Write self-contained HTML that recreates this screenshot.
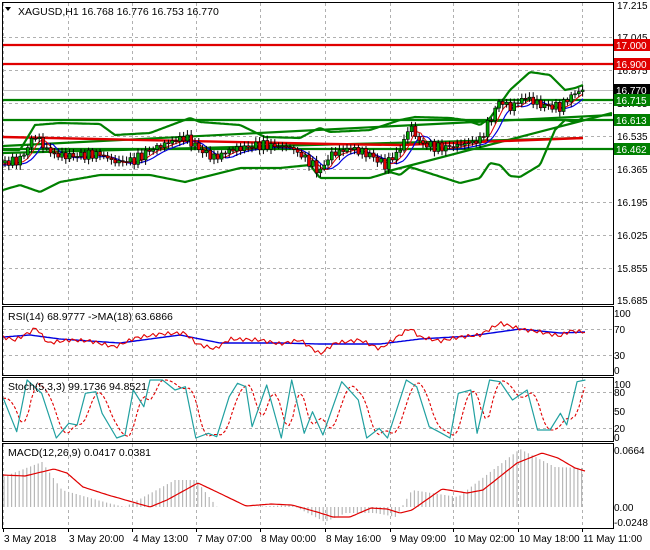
<!DOCTYPE html>
<html><head><meta charset="utf-8">
<style>
html,body{margin:0;padding:0;background:#fff;}
svg{display:block;font-family:"Liberation Sans",sans-serif;}
</style></head>
<body>
<svg id="c" width="650" height="550" xmlns="http://www.w3.org/2000/svg">
<rect width="650" height="550" fill="#fff"/>
<g id="grid" stroke="#b0b0b0" stroke-dasharray="3,3" stroke-width="1"></g>
<g id="series"></g>
<g id="frame" fill="none" stroke="#000" stroke-width="1">
<rect x="2.5" y="2.5" width="611" height="302"/>
<rect x="2.5" y="306.5" width="611" height="69"/>
<rect x="2.5" y="377.5" width="611" height="64"/>
<rect x="2.5" y="443.5" width="611" height="85"/>
</g>
<g id="txt" font-size="10" fill="#000"></g>
<text x="18" y="15" font-size="10.5">XAGUSD,H1  16.768 16.776 16.753 16.770</text>
<polygon points="5,7 11,7 8,11" fill="#000"/>
<text x="8" y="320" font-size="10.5">RSI(14) 68.9777  -&gt;MA(18) 63.6866</text>
<text x="8" y="390" font-size="10.5">Stoch(5,3,3) 99.1736 94.8521</text>
<text x="8" y="456" font-size="10.5">MACD(12,26,9) 0.0417 0.0381</text>
</svg>
<script>
(function(){
var NS="http://www.w3.org/2000/svg",svg=document.getElementById('c');
var G=document.getElementById('grid'),S=document.getElementById('series'),T=document.getElementById('txt');
function el(p,t,a,txt){var e=document.createElementNS(NS,t);for(var k in a)e.setAttribute(k,a[k]);if(txt!=null)e.textContent=txt;p.appendChild(e);return e;}
function interp(pts,x){if(x<=pts[0][0])return pts[0][1];for(var i=1;i<pts.length;i++){if(x<=pts[i][0]){var a=pts[i-1],b=pts[i];return a[1]+(b[1]-a[1])*(x-a[0])/(b[0]-a[0]);}}return pts[pts.length-1][1];}
function poly(pts,col,w,dash){var s=pts.map(function(p){return p[0].toFixed(1)+','+p[1].toFixed(1)}).join(' ');var a={points:s,fill:'none',stroke:col,'stroke-width':w,'stroke-linejoin':'round'};if(dash)a['stroke-dasharray']=dash;return el(S,'polyline',a);}
function sample(pts,x0,x1,step){var r=[];for(var x=x0;x<=x1;x+=step)r.push([x,interp(pts,x)]);return r;}
var xt=[3,68,132,196,260,325,390,453,518,582];
xt.forEach(function(x){[[3,304],[307,375],[378,441],[444,528]].forEach(function(r){el(G,'line',{x1:x+.5,y1:r[0],x2:x+.5,y2:r[1]});});});
var pl=[[17.215,5],[17.045,37],[16.875,70],[16.705,103],[16.535,136],[16.365,169],[16.195,202],[16.025,235],[15.855,268],[15.685,300]];
pl.forEach(function(p){if(p[1]>6&&p[1]<300)el(G,'line',{x1:3,y1:p[1]+.5,x2:613,y2:p[1]+.5});el(T,'text',{x:617,y:p[1]+4},p[0].toFixed(3));});
[[329],[355]].forEach(function(p){el(G,'line',{x1:3,y1:p[0]+.5,x2:613,y2:p[0]+.5});});
[[313,'100'],[329,'70'],[355,'30'],[370,'0']].forEach(function(p){el(T,'text',{x:614,y:p[0]+4},p[1]);});
[[392],[428]].forEach(function(p){el(G,'line',{x1:3,y1:p[0]+.5,x2:613,y2:p[0]+.5});});
[[384,'100'],[392,'80'],[411,'50'],[428,'20'],[437,'0']].forEach(function(p){el(T,'text',{x:614,y:p[0]+4},p[1]);});
[[450,'0.0664'],[507,'0.00'],[522,'-0.0248']].forEach(function(p){el(T,'text',{x:614,y:p[0]+4},p[1]);});
var tl=['3 May 2018','3 May 20:00','4 May 13:00','7 May 07:00','8 May 00:00','8 May 16:00','9 May 09:00','10 May 02:00','10 May 18:00','11 May 11:00'];
xt.forEach(function(x,i){el(T,'text',{x:x+1,y:542},tl[i]);el(S,'line',{x1:x+.5,y1:529,x2:x+.5,y2:532,stroke:'#000'});});
var hist=[[3,477],[42,462],[62,490],[108,503],[125,507],[175,480],[196,480],[217,507],[250,507],[292,505],[325,522],[346,513],[375,513],[396,517],[412,490],[458,497],[520,449],[555,467],[583,468]];
for(var x=4;x<=583;x+=3.8){var v=interp(hist,x);el(S,'line',{x1:x.toFixed(1),y1:507,x2:x.toFixed(1),y2:v.toFixed(1),stroke:'#b8b8b8','stroke-width':1.2});}
var macd=[[3,475],[25,476],[54,469],[67,473],[83,487],[108,495],[150,507],[167,500],[198,483],[217,492],[246,506],[271,504],[292,505],[317,512],[333,517],[350,517],[371,508],[387,509],[400,513],[412,510],[442,489],[467,493],[483,490],[517,463],[542,453],[558,458],[575,468],[585,471]];
poly(sample(macd,3,585,2),'#e00000',1.2);
var rsiK=[[3,337],[15,340],[30,332],[36,328],[48,343],[70,340],[90,341],[115,347],[135,338],[160,334],[185,333],[197,344],[215,349],[230,339],[260,340],[280,344],[300,340],[320,354],[335,343],[360,340],[380,349],[410,328],[420,337],[440,341],[460,337],[480,335],[495,326],[500,323],[520,329],[540,332],[560,336],[570,331],[585,332]];
var rsiM=[[3,337],[30,335],[60,339],[120,343],[180,335],[220,343],[280,343],[320,344],[380,344],[420,339],[470,336],[520,329],[560,333],[585,332]];
poly(sample(rsiM,3,585,2),'#0000e0',1.4);
var rr=[];for(var x=3;x<=585;x+=3){rr.push([x,interp(rsiK,x)+Math.sin(x*1.3)*2]);}poly(rr,'#e00000',1.1);
var sz=[[8,295],[40,395],[65,240],[100,280],[135,420],[165,370],[185,375],[205,280],[230,275],[245,340],[280,420],[300,405],[320,270],[345,320],[360,240],[390,240],[420,270],[445,260],[470,420],[500,400],[520,410],[550,290],[570,250],[590,260],[605,380],[640,255],[675,420],[700,240],[730,400],[750,335],[775,405],[820,245],[860,300],[880,420],[910,385],[930,415],[975,240],[1000,260],[1030,380],[1060,400],[1080,420],[1100,280],[1130,270],[1145,400],[1175,240],[1200,245],[1230,300],[1265,270],[1290,390],[1320,390],[1345,340],[1360,375],[1385,245],[1405,240]];
var st=sz.map(function(p){return [p[0]/2.4,Math.min(438,300+p[1]/3)]});
var sd=[];for(var x=3;x<=585;x+=2){var a=(interp(st,x-4)+interp(st,x-8)+interp(st,x-12))/3;sd.push([x,a]);}
poly(sd,'#e00000',1.1,'3,2');
poly(st,'#20a0a0',1.2);
[[45,'#e00000'],[64,'#e00000'],[100,'#008000'],[120,'#008000'],[149,'#008000']].forEach(function(h){el(S,'line',{x1:3,y1:h[0],x2:613,y2:h[0],stroke:h[1],'stroke-width':2.2});});
el(S,'line',{x1:3,y1:90.5,x2:613,y2:90.5,stroke:'#c0c0c0','stroke-width':1});
poly([[3,146],[612,115]],'#008000',2.2);
poly([[3,153],[583,138]],'#008000',2.2);
poly([[385,172],[612,113]],'#008000',2.2);
poly([[3,137],[330,144],[400,145],[583,138]],'#e00000',2.4);
var up=[[3,150],[20,150],[35,125],[60,123],[100,124],[115,135],[150,133],[190,118],[200,122],[240,125],[265,137],[300,138],[315,130],[320,128],[330,132],[370,130],[400,120],[415,117],[450,118],[465,120],[480,125],[490,118],[510,90],[530,72],[550,75],[565,90],[575,88],[583,85]];
var lo=[[3,190],[20,185],[40,192],[60,182],[100,175],[150,175],[185,182],[200,178],[240,168],[280,168],[310,165],[320,178],[370,178],[390,172],[400,175],[410,167],[460,183],[480,178],[490,163],[500,165],[510,176],[520,177],[540,165],[555,130],[565,120],[575,122],[583,118]];
poly(sample(up,3,583,2),'#008000',2.2);
poly(sample(lo,3,583,2),'#008000',2.2);
var pk=[[3,163],[20,160],[35,135],[45,148],[55,155],[70,156],[100,154],[115,162],[135,160],[150,150],[170,142],[185,137],[200,150],[215,158],[230,150],[260,145],[290,147],[305,158],[320,172],[330,155],[350,148],[370,155],[385,165],[400,150],[410,125],[420,143],[440,148],[460,145],[480,140],[490,120],[500,100],[510,108],[525,97],[540,105],[560,107],[572,95],[582,90]];
var ma1=[],ma2=[];
for(var x=3;x<=583;x+=2){ma1.push([x,(interp(pk,x-3)+interp(pk,x-7)+interp(pk,x-11))/3+1]);ma2.push([x,(interp(pk,x-6)+interp(pk,x-12)+interp(pk,x-18))/3+2]);}
poly(ma2,'#0000e0',1.2);poly(ma1,'#e00000',1);
var prev=interp(pk,3);
for(var x=5;x<=583;x+=3.8){var c=interp(pk,x)+Math.sin(x*0.9)*3+Math.cos(x*2.3)*2;if(x>578)c=interp(pk,x);var o=prev;var hi=Math.min(o,c)-2-Math.abs(Math.sin(x*1.7))*3;var lw=Math.max(o,c)+2+Math.abs(Math.cos(x*1.1))*3;
el(S,'line',{x1:x.toFixed(1),y1:hi.toFixed(1),x2:x.toFixed(1),y2:lw.toFixed(1),stroke:'#000','stroke-width':1});
var bt=Math.min(o,c),bh=Math.max(1,Math.abs(o-c));
el(S,'rect',{x:(x-1.5).toFixed(1),y:bt.toFixed(1),width:3,height:bh.toFixed(1),fill:c<o?'#00a000':'#e00000',stroke:'#000','stroke-width':0.6});prev=c;}
[[45,'17.000','#e00000'],[64,'16.900','#e00000'],[90,'16.770','#000'],[100,'16.715','#008000'],[120,'16.613','#008000'],[149,'16.462','#008000']].forEach(function(l){el(svg,'rect',{x:614,y:l[0]-6,width:36,height:12,fill:l[2]});el(svg,'text',{x:616,y:l[0]+4,fill:'#fff','font-size':10},l[1]);});
})();
</script>
</body></html>
